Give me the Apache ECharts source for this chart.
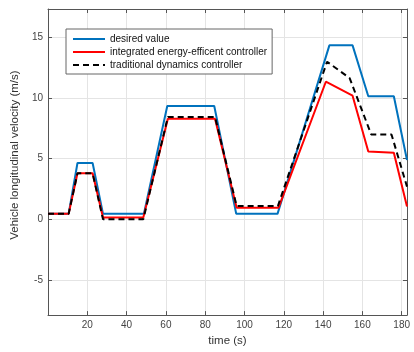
<!DOCTYPE html>
<html>
<head>
<meta charset="utf-8">
<style>
  html, body { margin: 0; padding: 0; background: #fff; }
  #chart { width: 414px; height: 352px; }
</style>
<script src="https://cdn.jsdelivr.net/npm/echarts@6/dist/echarts.min.js"></script>
</head>
<body>
<div id="chart"></div>
<script>
// series breakpoints (time in s, velocity in m/s)
const desiredT = [0, 10.5, 15, 22.7, 28, 48.8, 60.7, 84.6, 95.8, 116.8, 143.2, 155, 163, 176, 182.7];
const desiredV = [0.45, 0.45, 4.65, 4.65, 0.45, 0.45, 9.35, 9.35, 0.45, 0.45, 14.35, 14.35, 10.15, 10.15, 4.9];

const integratedT = [0, 10.5, 15, 22.7, 28, 48.5, 61, 85, 96, 117.3, 141.4, 155, 163, 176, 182.7];
const integratedV = [0.45, 0.45, 3.8, 3.8, 0.15, 0.15, 8.3, 8.3, 0.95, 0.95, 11.35, 10.2, 5.6, 5.5, 1.05];

const traditionalT = [0, 10.5, 15, 22.7, 28, 48.5, 61, 85, 96, 117, 142, 153.5, 164.5, 174.8, 182.7];
const traditionalV = [0.45, 0.45, 3.8, 3.8, 0.0, 0.0, 8.45, 8.45, 1.1, 1.1, 13.0, 11.65, 7.0, 7.0, 2.7];

const xTicks = [20, 40, 60, 80, 100, 120, 140, 160, 180];
const yTicks = [-5, 0, 5, 10, 15];

const seriesNames = ['desired value', 'integrated energy-efficent controller', 'traditional dynamics controller'];

const pairs = (t, v) => t.map((ti, i) => [ti, v[i]]);

const FONT = '"Liberation Sans", Arial, sans-serif';
const AXIS = '#555';

const chart = echarts.init(document.getElementById('chart'), null, { renderer: 'canvas' });

const baseX = {
  type: 'value', min: 0, max: 182.7,
  axisLine: { show: true, onZero: false, lineStyle: { color: AXIS, width: 1 } },
  axisTick: { show: true, inside: true, length: 4, customValues: xTicks, lineStyle: { color: AXIS } },
};
const baseY = {
  type: 'value', min: -7.9, max: 17.35,
  axisLine: { show: true, onZero: false, lineStyle: { color: AXIS, width: 1 } },
  axisTick: { show: true, inside: true, length: 4, customValues: yTicks, lineStyle: { color: AXIS } },
};

chart.setOption({
  animation: false,
  backgroundColor: '#fff',
  grid: { left: 48, right: 7, top: 9, bottom: 33, containLabel: false },
  legend: {
    orient: 'vertical', left: 66, top: 29,
    data: seriesNames,
    itemWidth: 32, itemHeight: 10, itemGap: 3,
    padding: [5, 5, 4, 6],
    borderColor: '#666', borderWidth: 1, backgroundColor: '#fff',
    // line series legend draws a marker in the middle; hide it
    itemStyle: { opacity: 0 },
    textStyle: { fontFamily: FONT, fontSize: 10, color: '#111' },
  },
  xAxis: [
    Object.assign({}, baseX, {
      position: 'bottom',
      name: 'time (s)', nameLocation: 'middle', nameGap: 18,
      nameTextStyle: { fontFamily: FONT, fontSize: 11.5, color: '#333' },
      axisLabel: { customValues: xTicks, margin: 5, fontFamily: FONT, fontSize: 10, color: '#444' },
      splitLine: { show: true, lineStyle: { color: '#e4e4e4', width: 1 } },
    }),
    Object.assign({}, baseX, {
      position: 'top',
      axisLabel: { show: false },
      splitLine: { show: false },
    }),
  ],
  yAxis: [
    Object.assign({}, baseY, {
      position: 'left',
      name: 'Vehicle longitudinal velocity (m/s)', nameLocation: 'middle', nameGap: 20,
      nameTextStyle: { fontFamily: FONT, fontSize: 11.5, color: '#333', padding: [0, 0, 0, 14] },
      axisLabel: { customValues: yTicks, margin: 5, fontFamily: FONT, fontSize: 10, color: '#444' },
      splitLine: { show: true, lineStyle: { color: '#e4e4e4', width: 1 } },
    }),
    Object.assign({}, baseY, {
      position: 'right',
      axisLabel: { show: false },
      splitLine: { show: false },
    }),
  ],
  series: [
    {
      name: seriesNames[0], type: 'line', symbol: 'none',
      data: pairs(desiredT, desiredV),
      lineStyle: { color: '#0072BD', width: 2 }, itemStyle: { color: '#0072BD' },
      z: 2,
    },
    {
      name: seriesNames[1], type: 'line', symbol: 'none',
      data: pairs(integratedT, integratedV),
      lineStyle: { color: '#FF0000', width: 2 }, itemStyle: { color: '#FF0000' },
      z: 3,
    },
    {
      name: seriesNames[2], type: 'line', symbol: 'none',
      data: pairs(traditionalT, traditionalV),
      lineStyle: { color: '#000', width: 2, type: [6, 4] }, itemStyle: { color: '#000' },
      z: 4,
    },
  ],
});
</script>
</body>
</html>
